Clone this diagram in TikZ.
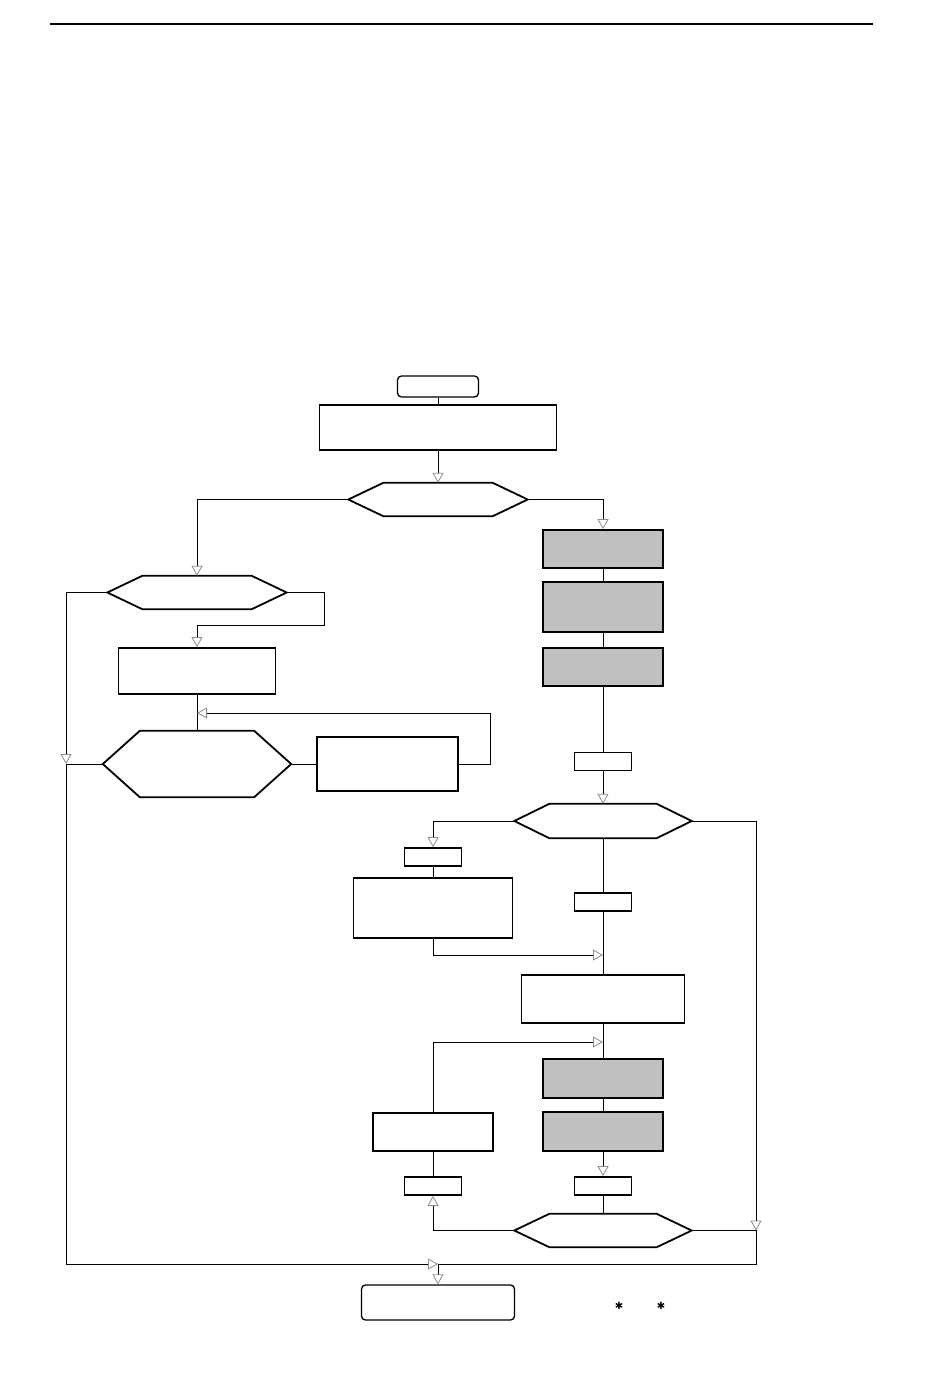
\documentclass[tikz,border=0pt]{standalone}
\usepackage{xcolor}
\usepackage{fontspec}
\usepackage{tikz}
\usetikzlibrary{positioning}
\usetikzlibrary{arrows.meta,calc}
\newfontfamily\dejavu{DejaVu Sans}
\definecolor{boxgrey}{RGB}{192,192,192}
\definecolor{tipgrey}{RGB}{140,140,140}

\begin{document}
\begin{tikzpicture}[x=1pt, y=-1pt,
   box/.style={draw, line width=1.8pt, inner sep=0pt},
   greybox/.style={box, fill=boxgrey},
   term/.style={box, rounded corners=4pt, line width=1.3pt},
   hexa/.style={inner sep=0pt},
   link/.style={line width=1pt},
   >={Triangle[open, length=10pt, width=11pt, color=tipgrey, line width=0.8pt]}]

 \useasboundingbox (0,0) rectangle (950,1391);
 \draw[line width=1.5pt] (50,24) -- (873,24);

 % main column
 \node[term, minimum width=81, minimum height=21] (start) at (438,386.5) {};
 \node[box, minimum width=237, minimum height=45] (init) at (438,427.5) {};
 \node[hexa, minimum width=179, minimum height=33] (dA) at (438,499.5) {};
 \node[term, minimum width=153, minimum height=35] (stop) at (438,1302.5) {};

 % right column
 \foreach \name/\y/\h in {gA/549/38, gB/607/50, gC/667/38, gD/1078.5/39, gE/1131.5/39}{
   \node[greybox, minimum width=120, minimum height=\h] (\name) at (603,\y) {};
 }
 \foreach \name/\x/\y in {sA/603/761.5, sB/433/857, sC/603/902, sD/603/1186, sE/433/1186}{
   \node[box, minimum width=57, minimum height=18] (\name) at (\x,\y) {};
 }
 \node[hexa, minimum width=177, minimum height=34] (dC) at (603,821) {};
 \node[box, minimum width=159, minimum height=60] (calc) at (433,908) {};
 \node[box, minimum width=163, minimum height=48] (load) at (603,999) {};
 \node[hexa, minimum width=177, minimum height=33] (dD) at (603,1230.5) {};
 \node[box, minimum width=120, minimum height=38] (back) at (433,1132) {};

 % left column
 \node[hexa, minimum width=179, minimum height=33] (dB) at (197,592.5) {};
 \node[box, minimum width=157, minimum height=46] (prep) at (197,671) {};
 \node[hexa, minimum width=188, minimum height=66] (dE) at (197,764) {};
 \node[box, minimum width=141, minimum height=54] (loop) at (387.5,764) {};

 \foreach \n/\c in {dA/35, dB/35, dC/35, dD/35, dE/37}{
   \draw[line width=1.8pt] (\n.west) -- ([xshift=\c]\n.north west) -- ([xshift=-\c]\n.north east)
     -- (\n.east) -- ([xshift=-\c]\n.south east) -- ([xshift=\c]\n.south west) -- cycle;
 }

 \node[font=\dejavu\fontsize{10}{10}\selectfont] (starA) at (619,1305.5) {✱};
 \node[font=\dejavu\fontsize{10}{10}\selectfont] (starB) at (661,1305.5) {✱};

 % joins
 \coordinate (jE) at (603,955);
 \coordinate (jF) at (603,1042);
 \coordinate (jR) at (756,1230.5);
 \coordinate (jL) at (66,764);
 \coordinate (jB) at (438,1264);
 \coordinate (jP) at (197,713);

 \draw[link] (start) -- (init);
 \draw[link,->] (init) -- (dA);
 \draw[link,->] (dA.west) -| (dB.north);
 \draw[link,->] (dA.east) -| (gA.north);
 \draw[link] (gA) -- (gB);
 \draw[link] (gB) -- (gC);
 \draw[link] (gC) -- (sA);
 \draw[link,->] (sA) -- (dC);
 \draw[link,->] (dC.west) -| (sB.north);
 \draw[link] (sB) -- (calc);
 \draw[link,->] (calc.south) |- (jE);
 \draw[link] (dC) -- (sC);
 \draw[link] (sC) -- (load);
 \draw[link] (load) -- (gD);
 \draw[link] (gD) -- (gE);
 \draw[link,->] (gE) -- (sD);
 \draw[link] (sD) -- (dD);
 \draw[link,->] (dD.west) -| (sE.south);
 \draw[link] (sE) -- (back);
 \draw[link,->] (back.north) |- (jF);
 \draw[link,->] (dC.east) -| (jR);
 \draw[link] (dD.east) -- (jR) |- (jB);
 \draw[link,->] (dB.west) -| (jL);
 \draw[link] (dE.west) -- (jL);
 \draw[link,->] (jL) |- (jB);
 \draw[link,->] (jB) -- (stop);
 \draw[link,->] (dB.east) -- ++(38,0) -- ++(0,32.5) -| (prep.north);
 \draw[link] (prep) -- (dE);
 \draw[link] (dE) -- (loop);
 \draw[link,->] (loop.east) -- ++(32,0) |- (jP);

\end{tikzpicture}
\end{document}
